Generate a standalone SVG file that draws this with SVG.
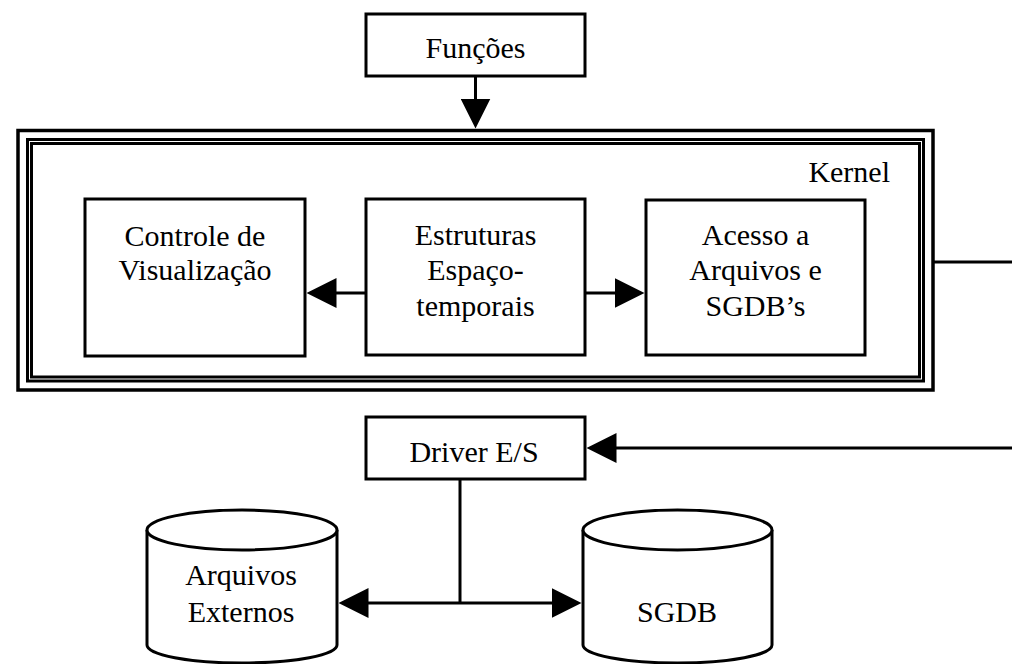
<svg xmlns="http://www.w3.org/2000/svg" width="1012" height="664" viewBox="0 0 1012 664">
  <style>
    .box { fill: #ffffff; stroke: #000000; stroke-width: 3; }
    .frame { fill: none; stroke: #000000; }
    .wire { fill: none; stroke: #000000; stroke-width: 3; }
    .label { font-family: "Liberation Serif", "Times New Roman", serif; font-size: 30px; fill: #000000; text-anchor: middle; }
  </style>
  <defs>
    <!-- solid triangular head; tip sits 20px beyond the path end -->
    <marker id="head" viewBox="0 0 30 30" refX="10" refY="15" markerWidth="30" markerHeight="30" markerUnits="userSpaceOnUse" orient="auto">
      <path d="M0,0 L30,15 L0,30 Z" fill="#000000"/>
    </marker>
  </defs>

  <rect width="1012" height="664" fill="#ffffff"/>

  <!-- Funções -->
  <g id="funcoes">
    <rect class="box" x="366" y="14" width="219" height="62"/>
    <text class="label" x="475.5" y="58">Funções</text>
  </g>

  <!-- Kernel container: thin outer rule plus a heavy double inner rule -->
  <g id="kernel">
    <rect class="frame" x="18" y="130.5" width="915" height="259.5" stroke-width="3.5"/>
    <rect class="frame" x="27.5" y="139.5" width="896" height="241.5" stroke-width="3"/>
    <rect class="frame" x="31.5" y="143.5" width="888" height="233.5" stroke-width="3"/>
    <text class="label" x="890" y="182" style="text-anchor:end">Kernel</text>
  </g>

  <g id="controle">
    <rect class="box" x="85" y="199" width="220" height="157"/>
    <text class="label" x="195" y="246">Controle de</text>
    <text class="label" x="195" y="280">Visualização</text>
  </g>

  <g id="estruturas">
    <rect class="box" x="366" y="199" width="219" height="156"/>
    <text class="label" x="475.5" y="245">Estruturas</text>
    <text class="label" x="475.5" y="280">Espaço-</text>
    <text class="label" x="475.5" y="316">temporais</text>
  </g>

  <g id="acesso">
    <rect class="box" x="646" y="200" width="219" height="155"/>
    <text class="label" x="755.5" y="245">Acesso a</text>
    <text class="label" x="755.5" y="280">Arquivos e</text>
    <text class="label" x="755.5" y="316">SGDB’s</text>
  </g>

  <g id="driver">
    <rect class="box" x="366" y="417" width="219" height="62"/>
    <text class="label" x="474" y="462">Driver E/S</text>
  </g>

  <g id="arquivos-externos">
    <path class="box" d="M147,530 L147,645 A95,18 0 0 0 337,645 L337,530"/>
    <ellipse class="box" cx="242" cy="530" rx="95" ry="20"/>
    <text class="label" x="241" y="585">Arquivos</text>
    <text class="label" x="241" y="622">Externos</text>
  </g>

  <g id="sgdb">
    <path class="box" d="M583,530 L583,645 A94.5,18 0 0 0 772,645 L772,530"/>
    <ellipse class="box" cx="677.5" cy="530" rx="94.5" ry="20"/>
    <text class="label" x="677" y="622">SGDB</text>
  </g>

  <g id="connectors">
    <path class="wire" d="M475.5,76 L475.5,108.5" marker-end="url(#head)"/>
    <path class="wire" d="M366,293 L326.5,293" marker-end="url(#head)"/>
    <path class="wire" d="M585,293 L624.5,293" marker-end="url(#head)"/>
    <path class="wire" d="M933,262 L1012,262"/>
    <path class="wire" d="M1012,448 L606.5,448" marker-end="url(#head)"/>
    <path class="wire" d="M460,479 L460,603"/>
    <path class="wire" d="M460,603 L358.5,603" marker-end="url(#head)"/>
    <path class="wire" d="M460,603 L561.5,603" marker-end="url(#head)"/>
  </g>
</svg>
